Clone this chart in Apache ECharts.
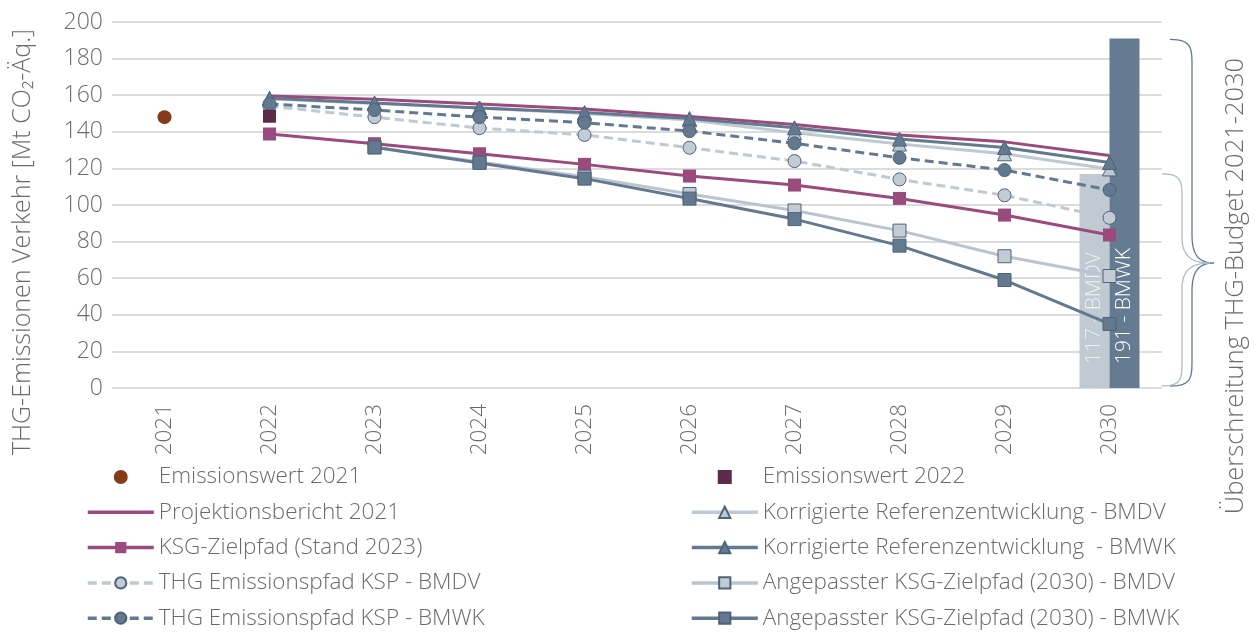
<!DOCTYPE html>
<html>
<head>
<meta charset="utf-8">
<script src="https://cdn.jsdelivr.net/npm/echarts@6/dist/echarts.min.js"></script>
<style>
html,body{margin:0;padding:0;background:#fff;}
#main{width:1260px;height:632px;}
</style>
</head>
<body>
<div id="main"></div>
<script>
// ---- data ----
const years = ['2021','2022','2023','2024','2025','2026','2027','2028','2029','2030'];
const yTicks = [0, 200, 20]; // min, max, interval
const emission2021 = [148, null, null, null, null, null, null, null, null, null];
const emission2022 = [null, 148.5, null, null, null, null, null, null, null, null];
const projektion2021 = [null, 159.5, 157.8, 155.2, 152.5, 148.3, 144, 138.3, 134.5, 127];
const refBMDV = [null, 158, 155.5, 153, 150, 146.5, 139.5, 133.3, 128, 119.7];
const refBMWK = [null, 158.3, 155.7, 153, 150.5, 147.2, 142.2, 136, 131.4, 123.2];
const ksgZiel = [null, 138.8, 133.5, 128, 122.2, 115.8, 110.9, 103.6, 94.5, 83.6];
const kspBMDV = [null, 154, 148, 142, 138.3, 131.3, 124, 114, 105.3, 93];
const kspBMWK = [null, 155.2, 151.9, 148, 145, 140.4, 133.7, 125.8, 119.1, 108.2];
const angBMDV = [null, null, 131.5, 123.5, 115.5, 106, 97, 86, 72, 61.2];
const angBMWK = [null, null, 131.5, 123, 114.4, 103.5, 92.3, 77.8, 59, 35];
const budgetBMDV = [null, null, null, null, null, null, null, null, null, 117];
const budgetBMWK = [null, null, null, null, null, null, null, null, null, 191];
const budgetLabels = ['117 - BMDV', '191 - BMWK'];

const names = {
  e21: 'Emissionswert 2021',
  e22: 'Emissionswert 2022',
  proj: 'Projektionsbericht 2021',
  refD: 'Korrigierte Referenzentwicklung - BMDV',
  refW: 'Korrigierte Referenzentwicklung  - BMWK',
  ksg: 'KSG-Zielpfad (Stand 2023)',
  kspD: 'THG Emissionspfad KSP - BMDV',
  kspW: 'THG Emissionspfad KSP - BMWK',
  angD: 'Angepasster KSG-Zielpfad (2030) - BMDV',
  angW: 'Angepasster KSG-Zielpfad (2030) - BMWK'
};
const yAxisTitle = 'THG-Emissionen Verkehr [Mt CO\u2082-\u00C4q.]';
const sideTitle = '\u00DCberschreitung THG-Budget 2021-2030';

// ---- styles ----
const FONT = '"Open Sans", "Noto Sans", sans-serif';
const TXT = '#6b6b6b';
const PINK = '#9a4a7d';
const DARK = '#627990';
const LIGHT = '#bfc9d2';
const DARKB = '#4e6378';

const chart = echarts.init(document.getElementById('main'), null, {renderer: 'canvas'});

function lineSeries(name, data, color, symbol, size, dashed, symColor, border) {
  return {
    name, type: 'line', data,
    symbol: symbol || 'none', symbolSize: size || 0, showSymbol: !!symbol,
    lineStyle: {color, width: 3, type: dashed ? [9, 5] : 'solid'},
    itemStyle: {color: symColor || color, borderColor: border || (symColor || color), borderWidth: border ? 1 : 0},
    emphasis: {disabled: true},
    z: 3
  };
}

const labelStyle = {fontFamily: FONT, fontWeight: 300, color: TXT};
const legendText = {fontSize: 22.5, color: TXT, fontFamily: FONT, fontWeight: 300, lineHeight: 24};
const legendCommon = {
  orient: 'vertical', top: 465, height: 200, padding: 0,
  itemWidth: 66, itemHeight: 14, itemGap: 11.3,
  selectedMode: false, textStyle: legendText,
  lineStyle: {width: 3.5}
};

const option = {
  animation: false,
  backgroundColor: '#fff',
  grid: {left: 112, right: 98, top: 22, bottom: 244, containLabel: false},
  xAxis: {
    type: 'category', data: years, boundaryGap: true,
    axisLine: {show: false}, axisTick: {show: false},
    axisLabel: Object.assign({rotate: 90, fontSize: 22.5, margin: 16}, labelStyle)
  },
  yAxis: {
    type: 'value', min: yTicks[0], max: yTicks[1], interval: yTicks[2],
    axisLine: {show: false}, axisTick: {show: false},
    axisLabel: Object.assign({fontSize: 23, margin: 9}, labelStyle),
    splitLine: {lineStyle: {color: '#dcdcdc', width: 2}}
  },
  legend: [
    Object.assign({
      data: [names.e21, {name: names.proj, icon: 'path://M0,0H66V3.4H0Z'}, names.ksg, names.kspD, names.kspW],
      left: 86
    }, legendCommon),
    Object.assign({
      data: [{name: names.e22, icon: 'path://M0,0H10V10H0Z'}, names.refD, names.refW, names.angD, names.angW],
      left: 690
    }, legendCommon)
  ],
  series: [
    {
      name: 'Budget BMDV', type: 'bar', data: budgetBMDV, barWidth: 30, barGap: '0%',
      itemStyle: {color: '#c0cad3'}, z: 1, emphasis: {disabled: true},
      label: {show: true, position: 'insideBottom', rotate: 90, align: 'left', verticalAlign: 'middle',
        distance: 24, formatter: budgetLabels[0], fontSize: 21, color: '#eef1f4', fontFamily: FONT, fontWeight: 300}
    },
    {
      name: 'Budget BMWK', type: 'bar', data: budgetBMWK, barWidth: 30, barGap: '0%',
      itemStyle: {color: '#647b92'}, z: 1, emphasis: {disabled: true},
      label: {show: true, position: 'insideBottom', rotate: 90, align: 'left', verticalAlign: 'middle',
        distance: 24, formatter: budgetLabels[1], fontSize: 21, color: '#ffffff', fontFamily: FONT, fontWeight: 300}
    },
    lineSeries(names.proj, projektion2021, PINK, null),
    lineSeries(names.refD, refBMDV, LIGHT, 'triangle', 14, false, LIGHT, DARKB),
    lineSeries(names.refW, refBMWK, DARK, 'triangle', 14, false, DARK, DARKB),
    lineSeries(names.ksg, ksgZiel, PINK, 'rect', 13, false, PINK, null),
    lineSeries(names.kspD, kspBMDV, LIGHT, 'circle', 13, true, '#c3ccd4', DARKB),
    lineSeries(names.kspW, kspBMWK, DARK, 'circle', 13, true, DARK, DARKB),
    lineSeries(names.angD, angBMDV, '#b9c4ce', 'rect', 13, false, '#c3ccd4', DARKB),
    lineSeries(names.angW, angBMWK, DARK, 'rect', 13, false, DARK, DARKB),
    {name: names.e21, type: 'scatter', data: emission2021, symbol: 'circle', symbolSize: 14,
      itemStyle: {color: '#843b1a', opacity: 1}, z: 4, emphasis: {disabled: true}},
    {name: names.e22, type: 'scatter', data: emission2022, symbol: 'rect', symbolSize: 13,
      itemStyle: {color: '#5d2a4a', opacity: 1}, z: 4, emphasis: {disabled: true}}
  ]
};
chart.setOption(option);

// ---- annotations positioned from the axes ----
function cubic(p0, p1, p2, p3, n, out) {
  for (let i = 1; i <= n; i++) {
    const t = i / n, u = 1 - t;
    out.push([
      u*u*u*p0[0] + 3*u*u*t*p1[0] + 3*u*t*t*p2[0] + t*t*t*p3[0],
      u*u*u*p0[1] + 3*u*u*t*p1[1] + 3*u*t*t*p2[1] + t*t*t*p3[1]
    ]);
  }
}
function brace(x0, xm, x1, y0, y1, ym, r) {
  const pts = [[x0, y0]];
  cubic([x0, y0], [xm, y0], [xm, y0 + r * 0.3], [xm, y0 + r], 16, pts);
  pts.push([xm, ym - r]);
  cubic([xm, ym - r], [xm, ym - r * 0.3], [xm + (x1 - xm) * 0.3, ym], [x1, ym], 16, pts);
  cubic([x1, ym], [xm + (x1 - xm) * 0.3, ym], [xm, ym + r * 0.3], [xm, ym + r], 16, pts);
  pts.push([xm, y1 - r]);
  cubic([xm, y1 - r], [xm, y1 - r * 0.3], [xm, y1], [x0, y1], 16, pts);
  return pts;
}
const yTop = chart.convertToPixel({yAxisIndex: 0}, budgetBMWK[9]);
const yMid = chart.convertToPixel({yAxisIndex: 0}, budgetBMDV[9]);
const yZero = chart.convertToPixel({yAxisIndex: 0}, 0);
const xRight = 1260 - 98;
const yTip = yZero - 125;

chart.setOption({
  graphic: [
    {type: 'polyline', shape: {points: brace(xRight + 8, xRight + 30, xRight + 52, yTop + 1, yZero - 2, yTip, 28)},
      style: {fill: null, stroke: '#61778e', lineWidth: 1.3}, z: 10},
    {type: 'polyline', shape: {points: brace(xRight, xRight + 20, xRight + 48, yMid, yZero - 2, yTip, 26)},
      style: {fill: null, stroke: '#aebbc7', lineWidth: 1.3}, z: 10},
    {type: 'text', x: 23, y: 242, rotation: Math.PI / 2,
      style: {text: yAxisTitle, fontSize: 25, fill: TXT, fontFamily: FONT, fontWeight: 300,
        align: 'center', verticalAlign: 'middle', textAlign: 'center', textVerticalAlign: 'middle'}},
    {type: 'text', x: 1236, y: 286, rotation: Math.PI / 2,
      style: {text: sideTitle, fontSize: 25.5, fill: TXT, fontFamily: FONT, fontWeight: 300,
        align: 'center', verticalAlign: 'middle', textAlign: 'center', textVerticalAlign: 'middle'}}
  ]
});
</script>
</body>
</html>
